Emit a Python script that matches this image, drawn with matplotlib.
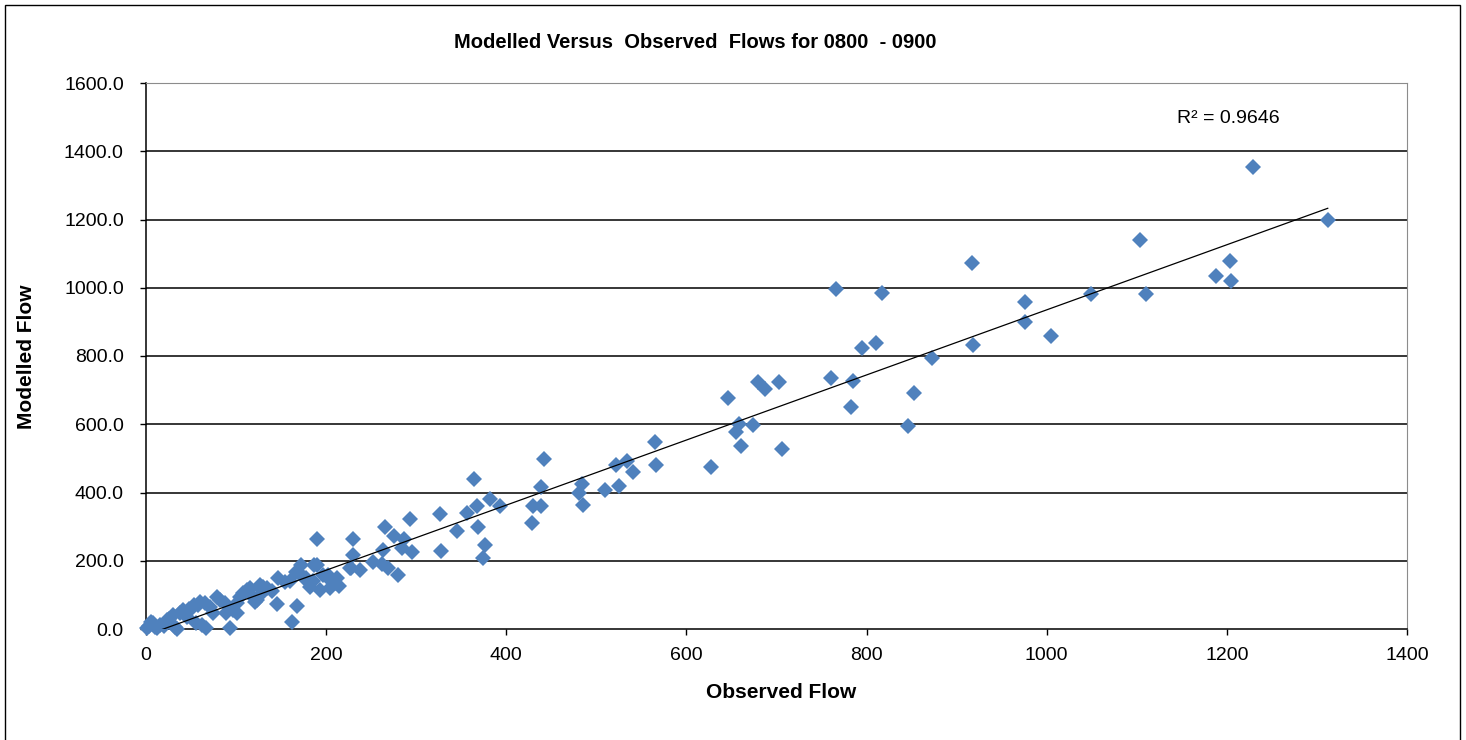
import numpy as np
import matplotlib.pyplot as plt
from matplotlib.patches import Rectangle

# observed / modelled flows
observed = [
    1229, 1312, 1104, 917, 766, 817, 1203, 1188, 1205, 1110, 1049, 976, 976, 1005,
    918, 873, 811, 795, 853, 846, 783, 785, 760,
    679, 687, 703, 646, 658, 655, 674, 661, 706, 627, 565, 566, 522, 534, 541,
    525, 510, 442, 364, 484, 481, 485, 439, 438, 430, 429, 382, 393, 356, 367,
    326, 369, 345, 376, 374, 327,
    293, 265, 190, 230, 275, 286, 284, 295, 263, 230, 226, 238, 252, 262, 269,
    280, 172, 190, 167, 147, 154, 145, 168, 162, 93,
    178, 197, 204, 210, 212, 182, 193, 204, 214, 127, 134, 112, 119,
    116, 130, 123, 104, 97, 101, 79, 82, 71, 66, 60, 53, 49, 41, 38, 62, 67, 56,
    30, 23, 16, 8, 1, 3, 12, 32, 34, 45, 88, 108, 140, 160, 175, 185,
    125, 130, 121, 101, 89, 74, 58, 48, 42, 20, 26, 5, 10, 186, 169, 202, 228,
]
modelled = [
    1355, 1198, 1140, 1072, 996, 986, 1078, 1034, 1021, 982, 982, 957, 899, 859,
    833, 794, 839, 823, 691, 595, 652, 728, 735,
    725, 703, 725, 676, 600, 576, 598, 536, 527, 476, 547, 481, 481, 493, 461,
    419, 407, 498, 441, 425, 398, 363, 417, 361, 359, 310, 380, 359, 341, 359,
    336, 300, 287, 246, 208, 228,
    321, 300, 263, 263, 272, 263, 236, 227, 231, 217, 178, 173, 197, 190, 180,
    158, 187, 187, 168, 149, 139, 72, 68, 20, 3,
    149, 158, 144, 134, 149, 124, 114, 119, 126, 129, 119, 114, 95,
    119, 124, 85, 95, 56, 75, 95, 85, 65, 75, 80, 70, 56, 56, 46, 12, 2, 17,
    41, 26, 12, 17, 2, 8, 2, 7, 0, 35, 75, 105, 110, 140, 150, 140,
    124, 109, 80, 46, 46, 46, 70, 60, 50, 10, 30, 20, 5, 188, 168, 158, 178,
]
r2_label = "R² = 0.9646"
x_ticks = [0, 200, 400, 600, 800, 1000, 1200, 1400]
y_ticks = [0, 200, 400, 600, 800, 1000, 1200, 1400, 1600]

plt.rcParams['font.family'] = ['Liberation Sans', 'DejaVu Sans']

fig = plt.figure(figsize=(14.66, 7.40), dpi=100)
ax = fig.add_axes([146 / 1466, 1 - 629 / 740, (1407 - 146) / 1466, (629 - 83) / 740])

ax.set_xlim(0, 1400)
ax.set_ylim(0, 1600)
ax.set_xticks(x_ticks)
ax.set_yticks(y_ticks)
ax.set_yticklabels([f"{v:.1f}" for v in y_ticks])
ax.tick_params(axis='both', direction='out', length=4, width=1.0, labelsize=14, colors='black')
ax.tick_params(axis='y', pad=12)
ax.tick_params(axis='x', pad=9)

for v in y_ticks[1:-1]:
    ax.axhline(v, color='black', lw=1.1, zorder=1)

ax.spines['left'].set_linewidth(1.1)
ax.spines['bottom'].set_linewidth(1.1)
ax.spines['top'].set_color('#8c8c8c')
ax.spines['right'].set_color('#8c8c8c')
ax.spines['top'].set_linewidth(0.8)
ax.spines['right'].set_linewidth(0.8)

ax.plot(observed, modelled, 'D', color='#4F81BD', markersize=8, markeredgewidth=0,
        clip_on=False, zorder=3)

# linear trend line
obs = np.array(observed, dtype=float)
mod = np.array(modelled, dtype=float)
slope, icpt = np.polyfit(obs, mod, 1)
xs = np.array([obs.min(), obs.max()])
ax.plot(xs, slope * xs + icpt, color='black', lw=0.9, zorder=4)

ax.text(1145, 1495, r2_label, fontsize=14, va='center', ha='left')

fig.text(695.5 / 1466, 1 - 42 / 740, "Modelled Versus  Observed  Flows for 0800  - 0900",
         fontsize=14.5, fontweight='bold', ha='center', va='center')
fig.text(781 / 1466, 1 - 692 / 740, "Observed Flow", fontsize=15, fontweight='bold',
         ha='center', va='center')
fig.text(27 / 1466, 1 - 357 / 740, "Modelled Flow", fontsize=15, fontweight='bold',
         ha='center', va='center', rotation=90)

# outer chart frame
fig.patches.append(Rectangle((5 / 1466, -0.05), 1455 / 1466, 1.05 - 5 / 740,
                             transform=fig.transFigure, fill=False, edgecolor='black', lw=1.0))

fig.savefig('out.png', dpi=100)
